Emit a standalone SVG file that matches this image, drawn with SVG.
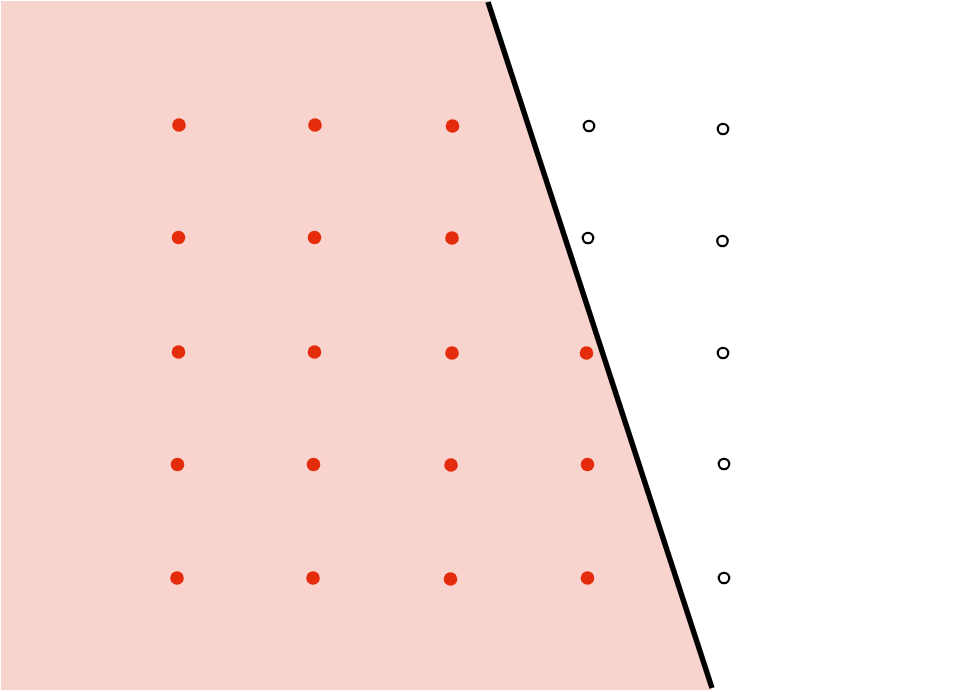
<svg xmlns="http://www.w3.org/2000/svg" width="980" height="692" viewBox="0 0 980 692">
<style>
.r{fill:#e42c0c}
.o{fill:#ffffff;stroke:#000000;stroke-width:2.3}
</style>
<rect x="0" y="0" width="980" height="692" fill="#ffffff"/>
<polygon id="region" points="1,1 488,1 712,690 1,690" fill="#f9d3cd"/>
<g id="connectors">
<line x1="488" y1="2" x2="712" y2="688" stroke="#000000" stroke-width="5.5"/>
</g>
<g id="dots">
<circle class="r" cx="179" cy="125" r="6.8"/>
<circle class="r" cx="315" cy="125" r="6.8"/>
<circle class="r" cx="452.5" cy="126" r="6.8"/>
<circle class="o" cx="589" cy="126" r="5.2"/>
<circle class="o" cx="723" cy="129" r="5.2"/>
<circle class="r" cx="178.5" cy="237.5" r="6.8"/>
<circle class="r" cx="314.5" cy="237.5" r="6.8"/>
<circle class="r" cx="452" cy="238" r="6.8"/>
<circle class="o" cx="588" cy="238" r="5.2"/>
<circle class="o" cx="722.5" cy="241" r="5.2"/>
<circle class="r" cx="178.5" cy="352" r="6.8"/>
<circle class="r" cx="314.5" cy="352" r="6.8"/>
<circle class="r" cx="452" cy="353" r="6.8"/>
<circle class="r" cx="586.5" cy="353" r="6.8"/>
<circle class="o" cx="723" cy="353" r="5.2"/>
<circle class="r" cx="177.5" cy="464.5" r="6.8"/>
<circle class="r" cx="313.5" cy="464.5" r="6.8"/>
<circle class="r" cx="451" cy="465" r="6.8"/>
<circle class="r" cx="587.5" cy="464.5" r="6.8"/>
<circle class="o" cx="724" cy="464" r="5.2"/>
<circle class="r" cx="177" cy="578" r="6.8"/>
<circle class="r" cx="313" cy="578" r="6.8"/>
<circle class="r" cx="450.5" cy="579" r="6.8"/>
<circle class="r" cx="587.5" cy="578" r="6.8"/>
<circle class="o" cx="724" cy="578" r="5.2"/>
</g>
</svg>
